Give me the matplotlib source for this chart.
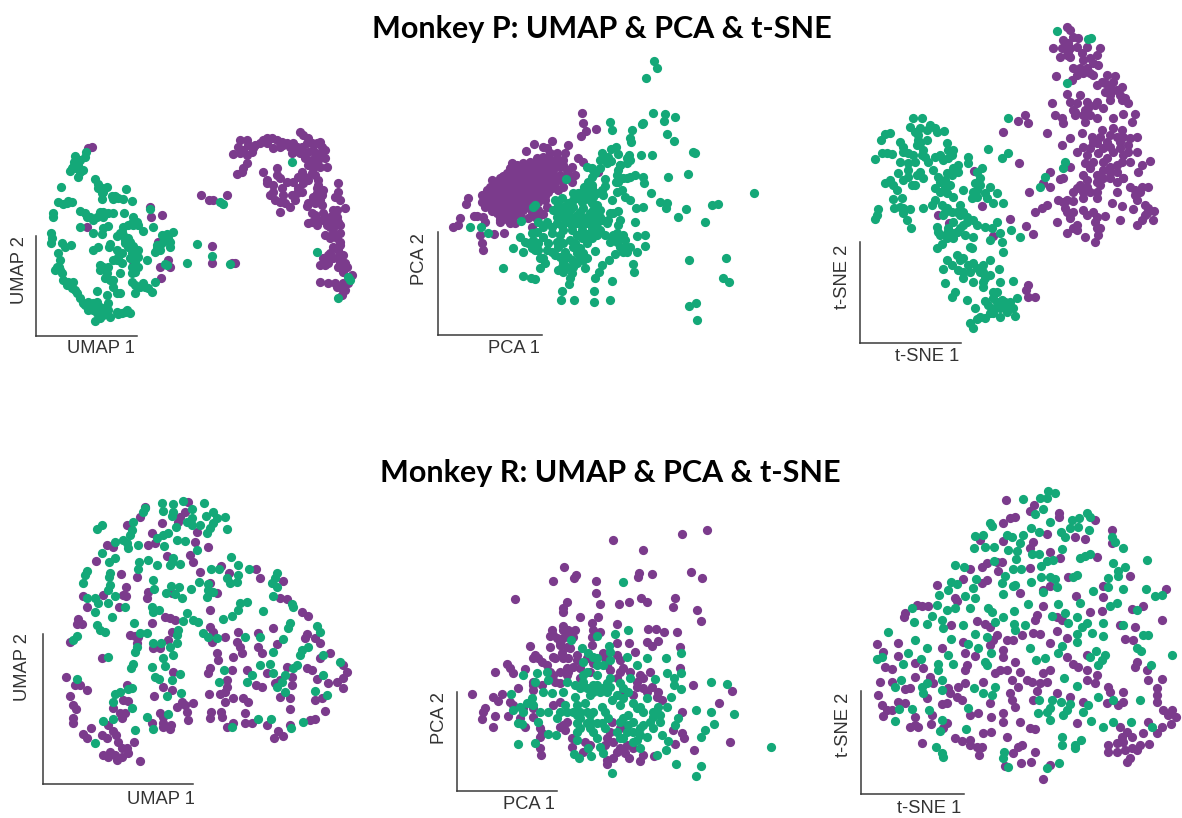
import numpy as np
import matplotlib
matplotlib.use('Agg')
import matplotlib.pyplot as plt

PURPLE = '#7b3b8c'
GREEN = '#14a878'

# Monkey P, UMAP
p_umap_purple = [(275,110),(265,115),(450,290),(452,320),(485,315),(260,352),(475,395),(505,450),(400,452),(510,472),(480,470),(483,503),(603,255),(628,270),(640,270),(680,255),(637,408),(637,460),(705,460),(695,458),
(700,132),(720,130),(715,110),(720,90),(740,90),(745,105),(740,135),(755,125),(740,160),(730,175),(712,192),(725,185),(765,105),(780,100),(800,85),(815,85),(830,90),(820,115),(840,110),(860,100),(880,100),(900,65),(910,75),(925,85),(920,100),(950,100),(960,95),(975,120),(960,130),(940,120),(900,130),(880,125),(915,145),(935,150),(955,150),(975,145),(980,170),(960,170),(940,175),(905,185),(945,195),(925,210),(790,185),(830,175),(830,195),(840,205),(860,215),(800,210),(800,220),(820,245),(845,235),(825,270),(840,275),(855,280),(840,305),(870,290),(885,270),(890,250),(905,245),(910,220),(955,225),(970,240),(950,250),(940,260),(960,270),(1015,220),(1015,245),(1005,260),(1020,270),(1035,295),(920,288),(965,285),(945,315),(935,335),(950,345),(970,310),(990,320),(1000,300),(1010,320),(1020,345),(1000,355),(980,345),(975,375),(1020,370),(1010,385),(1000,410),(1015,420),(985,435),(970,445),(960,465),(975,465),(1015,440),(1030,435),(1015,470),(1040,470),(1030,485),(1055,495),(960,517),(985,520),(1005,520),(1020,530),(1035,540),(1025,555),(925,340),(1000,335),
(730,120),(760,115),(790,90),(850,105),(870,110),(890,110),(935,100),(945,130),(925,125),(965,110),(950,165),(925,165),(935,190),(955,210),(915,200),(895,200),(880,215),(895,235),(875,255),(850,255),(820,225),(810,255),(950,235),(965,255),(925,280),(945,280),(935,310),(955,330),(970,330),(1010,300),(1015,335),(1000,370),(990,385),(990,350),(1020,395),(1020,405),(990,430),(1000,445),(985,460),(1020,455),(1035,460),(1045,520),(1010,530),(1030,520),(875,130),(905,110),(800,100),(845,95)]
p_umap_green = [(257,125),(225,138),(222,155),(255,140),(235,165),(228,175),(210,183),(240,185),(250,180),(235,200),(220,170),
(285,208),(295,222),(305,235),(320,232),(305,250),(305,268),(335,258),(340,268),(355,265),(368,268),(378,237),(395,272),(182,232),
(175,275),(190,282),(205,272),(215,275),(160,310),(160,320),(240,302),(255,310),(270,320),(280,330),(300,305),(310,320),(325,310),(340,308),(372,308),(400,322),(395,340),(410,335),(240,352),(280,368),(305,372),(310,355),(325,348),(370,350),(385,345),(365,365),(350,378),(430,362),(458,352),
(152,370),(155,385),(152,400),(185,400),(195,410),(213,405),(280,420),(295,412),(330,402),(328,412),(385,385),(375,400),(385,410),(400,408),(415,420),(395,430),(350,420),(355,440),(350,450),(365,460),(415,440),(440,450),(470,405),(465,425),(480,420),(485,375),(500,372),(520,365),(510,395),(510,410),(490,395),
(175,430),(180,450),(165,480),(178,470),(185,490),(190,510),(205,515),(220,515),(215,535),(230,550),(240,565),(300,465),(325,470),(300,480),(315,505),(330,510),(360,490),(395,470),(405,485),(395,515),(405,525),(420,530),(405,550),(435,530),(455,545),(465,515),(500,465),(340,510),(340,530),(290,542),(320,555),(350,550),(360,548),(325,580),(265,575),(255,585),(275,590),(290,575),(300,590),(290,610),(300,625),(285,632),(325,600),(330,620),(350,605),(365,610),(380,600),(390,610),(265,600),(305,605),(450,298),(660,275),(668,283),(590,402),(560,458),(637,437),(690,463),(495,462),(875,155),(952,425),(1045,500),(1050,510),(1015,563),
(230,150),(240,150),(215,175),(295,235),(310,245),(345,258),(200,278),(260,320),(290,320),(310,305),(360,370),(370,375),(375,390),(390,395),(405,430),(390,445),(405,455),(415,470),(395,490),(430,520),(445,535),(365,430),(340,450),(310,470),(320,490),(180,480),(170,470),(200,525),(225,540),(250,580),(280,580),(280,600),(310,615),(315,595),(375,605),(355,612),(400,345),(415,345),(480,405),(470,415),(505,385)]

# Monkey P, PCA
p_pca_purple = [(545,190),(550,220),(558,243),(588,237),(542,258),(455,272),(403,282),(378,302),(430,290),(440,295),(505,285),(495,310),(535,325),(548,335),(515,350),(525,375),(595,365),(205,445),(198,462),(180,505),(222,497),(232,497),(158,530),(175,525),(255,517),(245,578),(248,600),(240,555),(283,553),(313,550),(330,520),(345,520),(300,515),(395,530),(430,493),(420,495),
(335,340),(350,345),(370,340),(390,335),(410,325),(430,320),(450,310),(470,310),(490,330),
(320,370),(340,365),(360,365),(380,360),(400,350),(420,345),(440,340),(460,335),(480,350),(500,360),
(275,390),(300,385),(320,390),(340,385),(360,385),(380,380),(400,375),(420,365),(440,365),(460,360),(480,375),(500,385),(515,395),
(270,410),(290,410),(310,410),(330,405),(350,405),(370,400),(390,400),(410,395),(430,390),(450,385),(470,390),(490,410),
(245,435),(265,430),(285,430),(305,430),(325,425),(345,425),(365,420),(385,420),(405,415),(425,410),(445,405),(465,410),
(245,455),(265,450),(285,450),(305,450),(325,445),(345,445),(365,440),(385,440),(405,435),(425,430),(445,425),
(255,472),(275,470),(295,470),(315,465),(335,465),(355,460),(375,460),(395,455),(415,455),(435,450),
(290,490),(310,490),(330,485),(350,485),(370,480),(395,485),(415,480),(300,510),(340,500),
(330,355),(350,355),(370,352),(390,345),(410,340),(430,335),(450,330),(470,325),
(310,378),(330,378),(350,375),(370,375),(390,365),(410,362),(430,355),(450,350),(470,345),(490,345),
(280,400),(300,398),(320,400),(340,395),(360,395),(380,392),(400,388),(420,380),(440,378),(460,375),(485,392),(505,372),
(260,420),(280,420),(300,420),(320,415),(340,415),(360,412),(380,410),(400,405),(420,400),(440,395),(460,400),(475,420),
(255,445),(275,440),(295,440),(315,437),(335,435),(355,432),(375,430),(395,425),(415,422),(435,420),(455,415),
(255,462),(275,460),(295,460),(315,455),(335,455),(355,450),(375,450),(395,445),(415,440),(435,438),
(275,482),(295,480),(315,478),(335,475),(355,472),(380,470),(440,470),
(300,500),(320,500),(360,495),(405,500),(385,505),(325,510),(250,500)]
p_pca_green = [(761,33),(771,55),(738,85),(758,190),(795,193),(791,213),(824,200),(631,217),(636,240),(730,218),(727,222),(696,240),(690,265),(692,275),(801,253),(822,273),(648,290),(633,298),(605,308),(655,312),(878,305),(884,310),(755,316),(722,315),(688,315),(600,330),(615,325),(632,332),(690,330),(680,340),(660,345),(655,360),(865,372),(805,380),(560,350),(575,355),(585,370),(575,380),(650,375),(680,385),(705,375),(728,382),(732,400),(648,395),(497,388),(615,388),(615,408),(575,405),(552,412),(610,435),(635,450),(650,425),(665,420),(675,440),(690,450),(752,428),(1061,428),(780,457),(800,460),(797,475),(857,478),(835,500),(935,465),(955,461),(915,515),(708,475),(728,471),(705,515),(660,510),(655,525),(655,482),(630,490),(625,510),
(535,430),(570,430),(555,440),(580,440),(485,445),(465,450),(520,450),(545,455),(575,460),(600,480),(400,470),(405,465),(460,480),(490,470),(520,470),(550,475),(580,480),(470,500),(500,490),(530,495),(560,500),(590,495),(620,520),(415,517),(440,515),(470,520),(500,515),(530,520),(560,520),(590,520),(363,513),(210,530),(243,530),(263,550),(490,540),(515,540),(545,540),(575,540),(615,555),(635,560),(650,550),(670,555),(395,550),(360,560),(375,575),(400,570),(430,560),(470,575),(510,570),(545,565),(575,565),(650,575),(675,570),(710,557),(735,556),(340,593),(370,605),(395,595),(415,600),(440,600),(475,590),(495,605),(520,590),(540,595),(585,603),(677,590),(680,605),(735,587),(712,607),(645,613),(628,630),(420,625),(435,640),(465,615),(490,635),(515,630),(540,620),(560,625),(550,630),(605,645),(420,655),(485,650),(520,650),(555,655),(700,643),(702,667),(597,665),(585,683),(310,654),(370,677),(392,683),(405,688),(475,660),(515,670),(510,685),(507,703),(635,693),(868,630),(978,624),(970,683),(988,697),(486,722),(582,722),(483,749),(522,749),(582,756),(630,749),(887,760),(868,769),(892,809),
(545,425),(560,420),(530,445),(570,450),(590,465),(505,460),(475,465),(480,480),(510,480),(540,485),(570,490),(600,500),(485,500),(515,505),(545,505),(575,505),(605,510),(640,490),
(430,530),(455,530),(485,528),(515,528),(545,528),(575,530),(600,540),(410,545),(455,550),(480,555),(530,555),(560,552),(590,555),
(385,580),(415,580),(445,580),(490,580),(525,580),(560,580),(630,575),(660,590),(665,565),(690,590),(640,555),
(405,600),(455,605),(505,620),(530,610),(550,610),(480,620),(430,625),(500,650),(530,640),(490,665),(670,605),
(575,415),(590,430),(605,420),(520,430),(565,395),(580,360),(600,355),(655,395),(670,385),(690,380),(660,345),(680,325),(625,320),(620,340)]

# Monkey P, t-SNE
p_tsne_purple = [(740,35),(750,45),(700,100),(730,75),(760,65),(775,70),(725,100),(745,110),(720,125),(750,125),(785,115),(800,95),(840,100),(830,120),(835,150),(790,135),(800,160),(708,183),(760,160),(770,180),(810,175),(860,180),(885,183),(755,195),(830,210),(855,205),(905,215),(740,237),(780,240),(855,230),(880,225),(915,250),(925,265),(695,263),(750,260),(800,260),(825,270),(870,255),(760,285),(795,285),(850,280),(705,300),(725,310),(730,325),(765,300),(795,320),(830,310),(880,310),(910,297),(945,297),(935,320),(615,300),(595,317),(625,323),(548,352),(680,355),(750,370),(725,390),(785,355),(815,365),(845,345),(880,340),(905,345),(950,365),(790,395),(770,410),(830,385),(860,380),(900,380),(925,390),(950,410),(800,420),(835,415),(880,410),(910,420),(990,437),(598,445),(750,457),(795,445),(850,440),(890,450),(930,440),(965,450),(955,470),(790,480),(830,480),(870,470),(910,490),(690,470),(670,505),(690,515),(720,492),(730,490),(628,530),(770,520),(800,515),(840,510),(890,530),(930,515),(965,515),(985,515),(945,540),(950,555),(715,555),(740,555),(760,558),(790,550),(830,550),(875,565),(905,573),(680,570),(665,578),(645,590),(735,580),(790,585),(820,590),(855,603),(940,583),(975,570),(1003,587),(980,595),(570,612),(617,632),(640,658),(710,620),(750,610),(770,630),(825,620),(840,640),(900,615),(950,630),(965,615),(1000,615),(740,655),(795,665),(770,645),(835,660),(825,682),(625,810),(618,825),(625,845),(645,845),(462,468),(485,573),(388,625),(410,650),(518,662),(355,600),
(745,85),(770,95),(740,120),(810,130),(820,145),(780,160),(790,175),(845,200),(870,215),(890,225),(900,240),(805,280),(790,300),(810,300),(870,240),(830,260),(820,380),(840,365),(870,360),(890,365),(910,365),(930,370),(810,400),(850,400),(870,395),(900,400),(925,410),(820,440),(860,430),(905,440),(850,465),(870,455),(810,460),(890,470),(850,490),(830,500),(870,490),(800,495),(780,510),(810,530),(790,530),(830,530),(760,530),(730,560),(740,590),(760,590),(800,600),(830,605),(830,640),(760,640),(975,600),(985,580),(960,530),(945,525),(910,490),(890,500),(750,100),(735,90),(795,300),(820,180),(770,265),(765,290),(880,200),(905,255)]
p_tsne_green = [(710,47),(805,72),(812,70),(740,203),(565,310),(505,403),(565,413),(545,430),(735,440),(728,460),(675,487),(660,517),(600,665),(573,645),
(280,310),(305,310),(270,335),(300,340),(330,330),(345,340),(350,350),(372,347),(285,350),(210,355),(195,358),(182,375),(240,380),(295,375),(320,375),(380,385),(250,395),(290,390),(310,405),(385,405),(400,405),(185,415),(200,415),(215,418),(165,432),(250,410),(345,425),(370,435),(385,430),(315,425),(325,440),(240,442),(265,445),(285,440),(445,425),(445,445),(415,450),(340,465),(265,465),(235,475),(300,470),(265,485),(310,490),(355,485),(395,480),(415,470),(485,460),(470,470),(210,495),(195,505),(220,510),(230,525),(285,510),(250,495),(375,495),(375,515),(345,520),(430,525),(465,505),(470,525),(510,515),(495,535),(380,535),(400,545),(455,550),(470,545),(530,535),(520,565),(500,550),(550,565),(345,555),(218,553),(245,550),(222,578),(240,575),(270,583),(250,595),(175,582),(172,600),(165,612),(260,615),(272,638),(310,580),(335,570),(365,570),(380,580),(420,570),(395,590),(370,600),(420,600),(440,605),(460,615),(400,620),(430,630),(495,635),(515,640),(530,620),(350,635),(355,650),(385,640),(420,640),(460,665),(400,670),(380,670),(435,660),(510,675),(540,655),(545,680),(550,710),(365,688),(350,700),(455,700),(450,695),(410,720),(380,735),(430,730),(395,750),(370,762),(415,765),(460,745),(490,750),(510,735),(450,770),(480,770),(510,780),(538,762),(430,790),(460,800),(495,790),(490,815),(375,805),(405,830),(395,845),(440,855),(540,800),(578,798),(530,830),(495,858),(520,850),(545,855),(590,848),(465,880),(525,880),(560,875),(580,880),(585,903),(540,905),(495,910),(470,912),(450,925),(458,938),(520,895),
(320,345),(295,360),(300,385),(265,415),(280,420),(305,420),(360,420),(395,420),(400,460),(380,475),(360,500),(390,510),(360,530),(480,490),(480,510),(460,530),(375,590),(410,590),(430,590),(440,620),(470,630),(410,650),(395,655),(380,655),(360,660),(420,735),(445,750),(470,760),(490,770),(490,800),(430,770),(520,830),(530,860),(505,870),(540,880),(510,895),(560,890),(480,905),(555,860),(570,860),(250,580),(290,480),(275,510)]

# Monkey R, UMAP
r_umap_purple = [(435,50),(565,37),(555,65),(420,80),(540,80),(487,98),(380,105),(535,95),(455,130),(590,125),(465,160),(320,165),(340,170),(585,155),(623,172),(445,165),(500,197),(570,195),(580,215),(288,212),(600,245),(663,228),(687,248),(767,237),(362,252),(412,260),(780,265),(848,272),(377,290),(310,315),(248,318),(368,315),(378,318),(445,305),(440,325),(650,310),(630,280),(262,350),(358,350),(515,310),(840,325),(860,328),(905,365),(925,378),(630,360),(495,380),(510,385),(525,390),(235,388),(230,402),(245,403),(455,398),(630,410),(640,425),(820,415),(775,430),(715,425),(390,435),(405,437),(415,440),(515,425),(210,455),(505,450),(635,455),(675,440),(920,432),(915,445),(945,445),(960,460),(460,475),(480,475),(410,460),(712,455),(720,470),(775,470),(830,462),(650,490),(655,510),(725,490),(700,500),(785,490),(305,505),(960,505),(990,490),(1030,525),(1040,545),(630,535),(625,548),(695,540),(740,540),(800,550),(860,530),(920,535),(935,540),(1030,565),(1010,575),(985,580),(950,568),(197,562),(520,545),(680,570),(680,590),(840,570),(875,560),(225,585),(240,585),(262,600),(380,585),(490,590),(767,585),(785,590),(825,580),(875,585),(1030,595),(210,618),(462,618),(515,600),(627,612),(660,612),(675,605),(700,625),(730,625),(745,637),(840,620),(870,625),(945,630),(965,625),(370,630),(385,632),(545,635),(580,640),(530,650),(555,645),(675,635),(220,645),(228,657),(340,655),(360,670),(375,670),(365,685),(870,658),(975,663),(560,667),(632,667),(662,665),(735,670),(480,668),(490,680),(563,690),(630,685),(665,680),(945,688),(930,690),(220,685),(220,700),(456,700),(490,700),(512,705),(490,712),(510,718),(700,700),(735,700),(755,700),(800,705),(680,712),(325,705),(340,722),(272,715),(250,733),(260,743),(305,735),(320,745),(348,735),(355,755),(403,755),(835,722),(850,737),(823,745),(870,705),(310,795),(330,785),(345,795),(365,775),(380,775),(350,810),(365,800),(385,790),(420,813),(325,800)]
r_umap_green = [(485,40),(548,33),(520,42),(612,40),(435,55),(430,65),(490,63),(520,65),(575,58),(515,78),(640,65),(618,78),(675,80),(575,85),(650,85),(398,95),(560,95),(600,105),(640,100),(305,105),(290,118),(395,120),(528,110),(575,105),(680,117),(630,115),(390,135),(505,128),(490,135),(620,130),(470,145),(345,155),(370,150),(380,160),(530,150),(555,153),(415,165),(493,168),(385,175),(590,180),(307,190),(345,205),(328,215),(520,203),(515,215),(445,210),(418,215),(540,222),(510,225),(470,225),(692,200),(715,225),(632,237),(658,237),(748,237),(260,242),(255,255),(250,280),(415,237),(330,250),(328,262),(715,255),(680,265),(690,280),(710,275),(830,250),(825,265),(815,280),(830,290),(460,270),(330,285),(325,300),(597,275),(625,283),(512,288),(538,290),(572,298),(462,298),(625,300),(640,305),(620,320),(345,318),(498,310),(525,313),(545,325),(262,325),(285,325),(293,340),(325,340),(820,318),(740,335),(720,340),(875,343),(375,352),(285,365),(455,350),(460,365),(715,360),(790,362),(880,352),(560,370),(335,380),(478,360),(695,378),(670,388),(580,390),(595,397),(548,392),(403,398),(870,400),(865,415),(950,408),(960,425),(290,405),(300,420),(315,425),(610,430),(625,440),(535,420),(530,435),(420,428),(440,430),(230,437),(220,450),(735,440),(780,440),(650,445),(850,448),(460,458),(482,458),(530,458),(510,470),(925,470),(410,470),(405,485),(905,480),(820,485),(900,495),(325,500),(490,503),(520,495),(970,495),(1020,515),(810,522),(780,525),(890,525),(880,535),(400,522),(392,535),(455,530),(495,528),(672,540),(820,550),(855,555),(755,555),(540,553),(465,560),(478,568),(232,568),(515,570),(740,575),(658,575),(970,555),(845,575),(830,590),(395,595),(385,597),(360,607),(345,612),(338,635),(855,605),(945,603),(980,615),(543,608),(502,618),(395,655),(440,680),(310,692),(340,688),(505,673),(405,720),(460,717),(695,712),(775,688),(813,687),(910,697),(873,715),(285,758)]

# Monkey R, PCA
r_pca_purple = [(862,45),(786,58),(580,75),(670,105),(431,157),(812,170),(846,190),(467,180),(463,190),(398,197),(528,197),(657,175),(653,187),(697,177),(528,233),(286,253),(440,260),(430,280),(428,290),(541,268),(597,266),(627,260),(662,250),(680,260),(766,249),(758,276),(832,286),(842,319),(481,306),(534,306),(515,325),(428,332),(590,328),(520,345),(395,345),(390,362),(440,355),(465,345),(430,370),(540,352),(515,365),(685,342),(707,342),(733,352),(772,352),(460,365),(390,395),(330,394),(420,390),(450,400),(515,390),(590,385),(628,385),(682,382),(715,378),(695,392),(780,395),(340,430),(365,440),(400,425),(430,430),(425,415),(470,435),(550,415),(600,435),(645,410),(260,447),(270,460),(225,470),(280,475),(315,462),(380,450),(440,460),(460,455),(510,470),(570,465),(600,470),(690,470),(780,460),(400,480),(480,490),(590,490),(660,480),(340,500),(295,520),(340,525),(420,505),(650,515),(670,520),(695,515),(820,510),(935,527),(155,537),(245,537),(220,546),(235,558),(270,560),(195,578),(190,590),(186,612),(225,602),(265,602),(220,635),(300,610),(315,635),(340,605),(420,635),(435,645),(710,545),(725,555),(898,563),(785,592),(600,640),(570,650),(760,645),(785,655),(793,670),(365,655),(360,665),(455,670),(765,688),(930,681),(822,705),(360,700),(362,721),(455,697),(490,710),(600,700),(615,715),(628,730),(578,728),(560,735),(560,747),(660,737),(670,720),(702,723),
(400,360),(410,370),(430,345),(445,345),(420,380),(440,395),(345,420),(355,430),(405,430),(445,430),(470,420),(500,430),(555,430),(590,420),(390,470),(420,470),(445,470),(480,460),(520,445),(560,450),(610,460),(630,470),(650,500),(670,490),(340,510),(365,510),(405,500),(440,480),(280,570),(310,580),(340,580),(420,560),(400,570),(610,530),(640,540),(680,530),(715,530),(430,630),(440,620),(575,620),(610,630),(360,640),(560,670),(580,680),(620,690),(640,700),(495,680),(555,690),(590,710),(510,690)]
r_pca_green = [(610,200),(624,345),(584,358),(530,362),(452,375),(567,392),(485,398),(505,415),(782,415),(620,425),(680,430),(737,428),(490,440),(530,430),(570,435),(650,450),(740,473),(783,473),(308,480),(350,475),(380,472),(345,500),(385,495),(440,500),(490,480),(530,480),(570,490),(630,490),(705,493),(762,490),(872,500),(921,507),(763,510),(783,523),(370,532),(395,535),(430,530),(465,510),(520,510),(550,520),(600,505),(625,530),(272,538),(465,545),(510,540),(560,530),(590,540),(680,548),(752,545),(280,585),(300,575),(320,565),(335,550),(360,590),(385,590),(435,570),(470,570),(495,565),(545,575),(600,570),(650,580),(715,575),(742,575),(828,586),(872,592),(941,596),(410,610),(355,620),(295,625),(305,628),(470,600),(510,600),(565,610),(625,600),(670,590),(700,605),(775,608),(881,628),(765,630),(470,625),(500,625),(530,625),(625,630),(670,630),(720,620),(700,640),(855,645),(385,658),(408,660),(470,650),(520,650),(590,650),(640,650),(680,665),(725,660),(842,665),(470,675),(530,670),(600,670),(650,675),(295,688),(345,685),(745,678),(505,700),(540,695),(660,700),(548,715),(462,716),(478,730),(514,722),(737,704),(712,720),(769,747),(843,753),(827,784),(576,773),(1053,697),
(490,500),(510,520),(530,510),(560,505),(540,530),(570,515),(610,520),(480,520),(500,520),(520,530),(575,555),(610,550),(640,565),(660,575),(480,590),(460,590),(520,590),(555,590),(500,590),(480,610),(510,620),(545,625),(480,640),(510,640),(555,640),(610,610),(640,620),(620,650),(660,660),(690,620),(720,600),(700,590),(610,670),(640,680),(500,470),(530,450),(550,450),(570,410),(520,425),(340,570),(310,590),(420,590),(440,590),(600,620),(660,640)]

# Monkey R, t-SNE
r_tsne_purple = [(527,60),(612,75),(600,92),(688,98),(687,112),(555,110),(540,115),(520,130),(795,120),(845,150),(650,162),(735,170),(765,177),(610,185),(520,182),(845,190),(450,180),(600,205),(660,215),(690,235),(515,245),(800,232),(500,245),(470,250),(455,260),(505,272),(600,265),(420,268),(900,288),(715,292),(400,297),(455,310),(320,315),(470,300),(660,318),(640,330),(570,338),(820,318),(1007,328),(375,355),(738,348),(820,352),(260,375),(275,378),(295,378),(380,362),(225,400),(222,410),(640,378),(940,377),(620,405),(680,410),(695,420),(780,395),(815,392),(905,388),(995,420),(362,435),(440,422),(465,432),(480,440),(615,420),(915,440),(870,435),(500,465),(575,465),(610,458),(630,462),(530,480),(550,480),(490,480),(660,488),(885,478),(910,480),(680,452),(710,475),(400,485),(140,492),(205,490),(480,495),(335,505),(160,515),(205,527),(520,510),(520,530),(405,520),(435,527),(710,530),(770,525),(255,550),(165,560),(185,568),(280,565),(410,555),(555,545),(405,570),(730,553),(745,560),(770,570),(920,545),(915,560),(950,570),(510,570),(530,570),(660,570),(570,575),(640,580),(255,590),(300,590),(150,607),(185,607),(495,580),(545,600),(590,600),(605,605),(630,610),(650,605),(770,600),(800,585),(795,610),(955,600),(995,597),(405,610),(385,620),(310,610),(460,605),(565,620),(240,625),(225,628),(355,625),(360,640),(620,632),(835,620),(840,635),(880,637),(980,625),(980,645),(143,645),(380,650),(395,660),(540,640),(545,660),(680,638),(720,650),(205,665),(225,670),(290,655),(350,668),(335,672),(480,668),(610,660),(760,665),(830,670),(865,675),(155,675),(555,680),(880,665),(980,665),(170,690),(185,690),(160,708),(255,712),(305,705),(420,705),(445,700),(482,710),(520,700),(520,725),(570,725),(1000,690),(1025,690),(1015,705),(1038,712),(1022,732),(255,735),(240,742),(265,742),(302,733),(350,730),(340,745),(600,745),(615,747),(740,730),(870,740),(955,725),(995,740),(980,760),(938,760),(890,755),(875,770),(460,760),(483,755),(375,775),(395,782),(420,780),(530,770),(277,790),(420,795),(440,800),(457,800),(575,795),(565,800),(835,795),(860,790),(880,785),(905,770),(930,795),(958,793),(835,815),(860,815),(885,810),(905,805),(920,810),(447,825),(550,820),(615,815),(900,835),(892,845),(525,858),(572,850),(603,847),(660,855),(640,897)]
r_tsne_green = [(653,33),(675,40),(630,55),(650,55),(578,58),(640,88),(615,103),(772,100),(780,110),(725,120),(748,115),(660,127),(480,130),(485,137),(720,145),(745,140),(602,143),(628,155),(778,150),(692,157),(435,167),(460,165),(705,172),(530,165),(545,172),(578,165),(845,170),(855,185),(880,203),(570,190),(432,203),(465,200),(492,200),(533,210),(562,212),(605,222),(627,222),(695,207),(780,222),(765,228),(750,235),(950,240),(492,242),(558,238),(650,243),(670,240),(632,257),(375,255),(403,262),(850,250),(550,268),(572,267),(885,262),(865,272),(865,288),(525,287),(632,292),(660,290),(675,298),(742,285),(728,290),(835,295),(437,298),(362,305),(380,313),(515,310),(602,305),(680,320),(548,318),(555,315),(835,322),(880,328),(948,328),(355,330),(428,325),(328,345),(405,348),(520,343),(790,332),(975,348),(997,345),(640,335),(435,355),(595,372),(750,368),(685,372),(860,368),(840,378),(320,375),(245,385),(352,390),(375,383),(420,385),(475,385),(485,395),(553,392),(705,398),(922,390),(305,408),(335,420),(520,410),(665,408),(742,412),(252,425),(292,432),(398,435),(495,425),(552,432),(715,428),(818,428),(880,435),(770,428),(755,440),(585,435),(340,443),(555,450),(742,462),(938,465),(955,465),(175,457),(435,462),(363,478),(470,470),(785,458),(820,468),(255,480),(742,487),(415,492),(292,505),(445,505),(695,498),(600,505),(920,505),(933,513),(235,518),(355,525),(483,520),(683,520),(798,512),(825,525),(1027,525),(140,538),(155,530),(272,538),(465,545),(618,540),(645,535),(815,540),(805,555),(780,530),(220,553),(325,552),(368,553),(325,570),(470,555),(963,555),(212,600),(335,600),(290,608),(702,595),(195,622),(275,620),(335,630),(432,625),(495,622),(740,618),(280,640),(458,640),(485,645),(850,660),(930,660),(628,660),(692,665),(665,660),(805,650),(775,675),(415,683),(660,685),(720,672),(208,686),(245,688),(298,690),(625,698),(650,695),(710,690),(700,705),(760,695),(335,720),(660,720),(782,723),(850,727),(902,727),(407,747),(330,752),(818,740),(965,740),(195,723),(696,770),(752,780),(318,800),(697,795),(735,795),(735,805),(335,818),(338,830),(522,815),(520,835),(535,860),(650,865),(688,850)]

xlabels = ['UMAP 1', 'PCA 1', 't-SNE 1', 'UMAP 1', 'PCA 1', 't-SNE 1']
ylabels = ['UMAP 2', 'PCA 2', 't-SNE 2', 'UMAP 2', 'PCA 2', 't-SNE 2']
purples = [p_umap_purple, p_pca_purple, p_tsne_purple, r_umap_purple, r_pca_purple, r_tsne_purple]
greens = [p_umap_green, p_pca_green, p_tsne_green, r_umap_green, r_pca_green, r_tsne_green]

# panel layout in pixels: offset, then corner of the L, top of it, right end of it, label spots
# the values above are read at 3x from a crop starting at the offset
layout = [
    (0, 110, 107, 678, 378, 410, (302, 716), (57, 480)),
    (400, 50, 113, 855, 545, 425, (342, 895), (58, 628)),
    (820, 15, 120, 985, 680, 422, (322, 1025), (68, 785)),
    (0, 490, 130, 882, 432, 580, (482, 928), (68, 532)),
    (420, 515, 110, 828, 530, 412, (328, 868), (58, 608)),
    (830, 480, 93, 942, 632, 402, (298, 985), (40, 735)),
]

W, H = 1182, 818
fig = plt.figure(figsize=(W/100, H/100), dpi=100, facecolor='white')

for i in range(6):
    ox, oy, cx, cy, ty, rx, xl, yl = layout[i]
    left = (ox + cx/3) / W
    bottom = 1 - (oy + cy/3) / H
    ax = fig.add_axes([left, bottom, (rx - cx)/3/W, (cy - ty)/3/H])
    ax.set_xlim(cx, rx)
    ax.set_ylim(cy, ty)
    ax.patch.set_visible(False)
    for side in ['top', 'right']:
        ax.spines[side].set_visible(False)
    for side in ['left', 'bottom']:
        ax.spines[side].set_linewidth(1.1)
        ax.spines[side].set_color('#3a3a3a')
    ax.set_xticks([])
    ax.set_yticks([])

    a = np.array(purples[i])
    b = np.array(greens[i])
    ax.scatter(a[:, 0], a[:, 1], s=44, color=PURPLE, linewidths=0, clip_on=False, zorder=3)
    ax.scatter(b[:, 0], b[:, 1], s=44, color=GREEN, linewidths=0, clip_on=False, zorder=4)

    ax.text(xl[0], xl[1], xlabels[i], ha='center', va='center', fontsize=13.2,
            family='Liberation Sans', color='#333333', clip_on=False)
    ax.text(yl[0], yl[1], ylabels[i], ha='center', va='center', rotation=90, fontsize=13.2,
            family='Liberation Sans', color='#333333', clip_on=False)

fig.text(602/W, 1 - 29/H, 'Monkey P: UMAP & PCA & t-SNE', ha='center', va='center',
         fontsize=22, fontweight='bold', family='Lato', color='black')
fig.text(610/W, 1 - 473/H, 'Monkey R: UMAP & PCA & t-SNE', ha='center', va='center',
         fontsize=22, fontweight='bold', family='Lato', color='black')

fig.savefig('out.png', dpi=100)
